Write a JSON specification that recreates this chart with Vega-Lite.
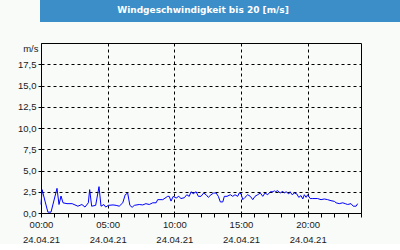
{
  "$schema": "https://vega.github.io/schema/vega-lite/v6.json",
  "background": "#f9fbf9",
  "padding": 0,
  "columns": 1,
  "align": "none",
  "config": {"view": {"stroke": "#000000", "strokeWidth": 1}},
  "concat": [
    {
      "width": 360,
      "height": 20,
      "data": {"values": [{"title": "Windgeschwindigkeit bis 20 [m/s]"}]},
      "layer": [
        {"mark": {"type": "rect", "color": "#3b8ec8", "stroke": "#3b8ec8", "strokeWidth": 2}, "encoding": {}},
        {"mark": {"type": "text", "font": "DejaVu Sans", "fontWeight": "bold", "fontSize": 9, "color": "#ffffff", "dy": -1, "dx": -18},
         "encoding": {"text": {"field": "title", "type": "nominal"}}}
      ]
    },
    {
      "width": 320,
      "height": 170,
      "data": {"values": [
        {"t": "2021-04-24T00:00", "v": 1.0},
        {"t": "2021-04-24T00:05", "v": 2.75},
        {"t": "2021-04-24T00:18", "v": 1.4},
        {"t": "2021-04-24T00:31", "v": 0.1},
        {"t": "2021-04-24T00:45", "v": 0.1},
        {"t": "2021-04-24T01:12", "v": 2.9},
        {"t": "2021-04-24T01:21", "v": 1.0},
        {"t": "2021-04-24T01:30", "v": 2.0},
        {"t": "2021-04-24T01:39", "v": 1.2},
        {"t": "2021-04-24T01:57", "v": 1.1},
        {"t": "2021-04-24T02:20", "v": 1.1},
        {"t": "2021-04-24T02:46", "v": 0.8},
        {"t": "2021-04-24T03:04", "v": 1.0},
        {"t": "2021-04-24T03:18", "v": 0.7},
        {"t": "2021-04-24T03:33", "v": 1.2},
        {"t": "2021-04-24T03:39", "v": 2.75},
        {"t": "2021-04-24T03:48", "v": 0.8},
        {"t": "2021-04-24T04:06", "v": 0.9},
        {"t": "2021-04-24T04:21", "v": 3.1},
        {"t": "2021-04-24T04:30", "v": 0.8},
        {"t": "2021-04-24T04:43", "v": 1.0},
        {"t": "2021-04-24T04:51", "v": 0.7},
        {"t": "2021-04-24T05:03", "v": 0.9},
        {"t": "2021-04-24T05:24", "v": 0.95},
        {"t": "2021-04-24T05:38", "v": 0.9},
        {"t": "2021-04-24T05:52", "v": 0.8},
        {"t": "2021-04-24T06:08", "v": 1.2},
        {"t": "2021-04-24T06:19", "v": 2.15},
        {"t": "2021-04-24T06:30", "v": 2.35},
        {"t": "2021-04-24T06:40", "v": 0.9},
        {"t": "2021-04-24T06:50", "v": 0.67},
        {"t": "2021-04-24T07:00", "v": 0.9},
        {"t": "2021-04-24T07:22", "v": 1.0},
        {"t": "2021-04-24T07:38", "v": 0.95},
        {"t": "2021-04-24T07:52", "v": 1.1},
        {"t": "2021-04-24T08:07", "v": 1.0},
        {"t": "2021-04-24T08:23", "v": 1.2},
        {"t": "2021-04-24T08:38", "v": 1.2},
        {"t": "2021-04-24T08:45", "v": 1.57},
        {"t": "2021-04-24T09:08", "v": 1.57},
        {"t": "2021-04-24T09:30", "v": 1.96},
        {"t": "2021-04-24T09:37", "v": 1.96},
        {"t": "2021-04-24T09:45", "v": 1.4},
        {"t": "2021-04-24T09:55", "v": 1.96},
        {"t": "2021-04-24T10:08", "v": 1.76},
        {"t": "2021-04-24T10:20", "v": 1.96},
        {"t": "2021-04-24T10:30", "v": 1.7},
        {"t": "2021-04-24T10:45", "v": 1.8},
        {"t": "2021-04-24T10:56", "v": 2.15},
        {"t": "2021-04-24T11:07", "v": 1.96},
        {"t": "2021-04-24T11:15", "v": 2.5},
        {"t": "2021-04-24T11:25", "v": 2.27},
        {"t": "2021-04-24T11:38", "v": 2.5},
        {"t": "2021-04-24T11:48", "v": 1.96},
        {"t": "2021-04-24T12:00", "v": 1.96},
        {"t": "2021-04-24T12:12", "v": 2.35},
        {"t": "2021-04-24T12:23", "v": 2.15},
        {"t": "2021-04-24T12:33", "v": 1.84},
        {"t": "2021-04-24T12:45", "v": 2.15},
        {"t": "2021-04-24T12:57", "v": 2.35},
        {"t": "2021-04-24T13:08", "v": 2.35},
        {"t": "2021-04-24T13:18", "v": 1.96},
        {"t": "2021-04-24T13:27", "v": 1.3},
        {"t": "2021-04-24T13:38", "v": 1.3},
        {"t": "2021-04-24T13:45", "v": 1.96},
        {"t": "2021-04-24T13:57", "v": 1.96},
        {"t": "2021-04-24T14:12", "v": 2.15},
        {"t": "2021-04-24T14:23", "v": 1.96},
        {"t": "2021-04-24T14:33", "v": 2.15},
        {"t": "2021-04-24T14:45", "v": 1.96},
        {"t": "2021-04-24T14:52", "v": 2.35},
        {"t": "2021-04-24T15:00", "v": 2.27},
        {"t": "2021-04-24T15:08", "v": 1.57},
        {"t": "2021-04-24T15:18", "v": 1.84},
        {"t": "2021-04-24T15:30", "v": 2.15},
        {"t": "2021-04-24T15:42", "v": 1.96},
        {"t": "2021-04-24T15:53", "v": 1.57},
        {"t": "2021-04-24T16:03", "v": 1.96},
        {"t": "2021-04-24T16:15", "v": 2.15},
        {"t": "2021-04-24T16:27", "v": 2.35},
        {"t": "2021-04-24T16:38", "v": 1.96},
        {"t": "2021-04-24T16:48", "v": 2.35},
        {"t": "2021-04-24T17:00", "v": 2.15},
        {"t": "2021-04-24T17:12", "v": 2.5},
        {"t": "2021-04-24T17:25", "v": 2.5},
        {"t": "2021-04-24T17:30", "v": 2.63},
        {"t": "2021-04-24T17:35", "v": 2.5},
        {"t": "2021-04-24T17:45", "v": 2.63},
        {"t": "2021-04-24T17:56", "v": 2.35},
        {"t": "2021-04-24T18:08", "v": 2.55},
        {"t": "2021-04-24T18:15", "v": 2.35},
        {"t": "2021-04-24T18:23", "v": 2.5},
        {"t": "2021-04-24T18:35", "v": 2.25},
        {"t": "2021-04-24T18:41", "v": 2.5},
        {"t": "2021-04-24T18:50", "v": 2.15},
        {"t": "2021-04-24T19:00", "v": 2.35},
        {"t": "2021-04-24T19:11", "v": 2.25},
        {"t": "2021-04-24T19:20", "v": 1.84},
        {"t": "2021-04-24T19:30", "v": 2.05},
        {"t": "2021-04-24T19:38", "v": 1.65},
        {"t": "2021-04-24T19:45", "v": 2.15},
        {"t": "2021-04-24T19:53", "v": 1.84},
        {"t": "2021-04-24T20:00", "v": 2.15},
        {"t": "2021-04-24T20:11", "v": 1.7},
        {"t": "2021-04-24T20:23", "v": 1.7},
        {"t": "2021-04-24T20:45", "v": 1.7},
        {"t": "2021-04-24T21:00", "v": 1.57},
        {"t": "2021-04-24T21:15", "v": 1.65},
        {"t": "2021-04-24T21:30", "v": 1.57},
        {"t": "2021-04-24T21:45", "v": 1.45},
        {"t": "2021-04-24T22:00", "v": 1.37},
        {"t": "2021-04-24T22:08", "v": 1.2},
        {"t": "2021-04-24T22:22", "v": 1.1},
        {"t": "2021-04-24T22:38", "v": 1.2},
        {"t": "2021-04-24T22:49", "v": 1.1},
        {"t": "2021-04-24T23:00", "v": 1.0},
        {"t": "2021-04-24T23:15", "v": 1.1},
        {"t": "2021-04-24T23:25", "v": 0.8},
        {"t": "2021-04-24T23:38", "v": 0.8},
        {"t": "2021-04-24T23:45", "v": 1.1}
      ]},
      "mark": {"type": "line", "color": "#0000ff", "strokeWidth": 1},
      "encoding": {
        "x": {
          "field": "t",
          "type": "temporal",
          "scale": {"domain": [
            {"year": 2021, "month": 4, "date": 24, "hours": 0},
            {"year": 2021, "month": 4, "date": 25, "hours": 0}
          ], "nice": false},
          "axis": {
            "title": null,
            "tickCount": 24,
            "domain": false,
            "tickSize": 4,
            "tickColor": "#000000",
            "labelFont": "Liberation Sans",
            "labelFontSize": 9.5,
            "labelColor": "#1a1a1a",
            "labelPadding": 2,
            "labelLineHeight": 15,
            "labelOverlap": false,
            "labelFlush": false,
            "labelExpr": "(hours(datum.value) % 5 == 0 && date(datum.value) == 24) ? [timeFormat(datum.value, '%H:%M'), timeFormat(datum.value, '%d.%m.%y')] : ''",
            "grid": true,
            "gridColor": "#000000",
            "gridDash": [3, 3],
            "gridOpacity": {"condition": {"test": "hours(datum.value) % 5 == 0 && date(datum.value) == 24", "value": 1}, "value": 0}
          }
        },
        "y": {
          "field": "v",
          "type": "quantitative",
          "scale": {"domain": [0, 20], "nice": false},
          "axis": {
            "title": "m/s",
            "titleAngle": 0,
            "titleX": -3,
            "titleY": 5,
            "titleAlign": "right",
            "titleBaseline": "middle",
            "titleFont": "Liberation Sans",
            "titleFontSize": 9.5,
            "titleFontWeight": "normal",
            "titleColor": "#1a1a1a",
            "values": [0, 2.5, 5, 7.5, 10, 12.5, 15, 17.5],
            "domain": false,
            "tickSize": 3,
            "tickColor": "#000000",
            "labelPadding": 2,
            "labelFont": "Liberation Sans",
            "labelFontSize": 9.5,
            "labelColor": "#1a1a1a",
            "labelExpr": "replace(format(datum.value, '.1f'), '.', ',')",
            "grid": true,
            "gridColor": "#000000",
            "gridDash": [3, 3],
            "minExtent": 40,
            "maxExtent": 40
          }
        }
      }
    }
  ]
}
